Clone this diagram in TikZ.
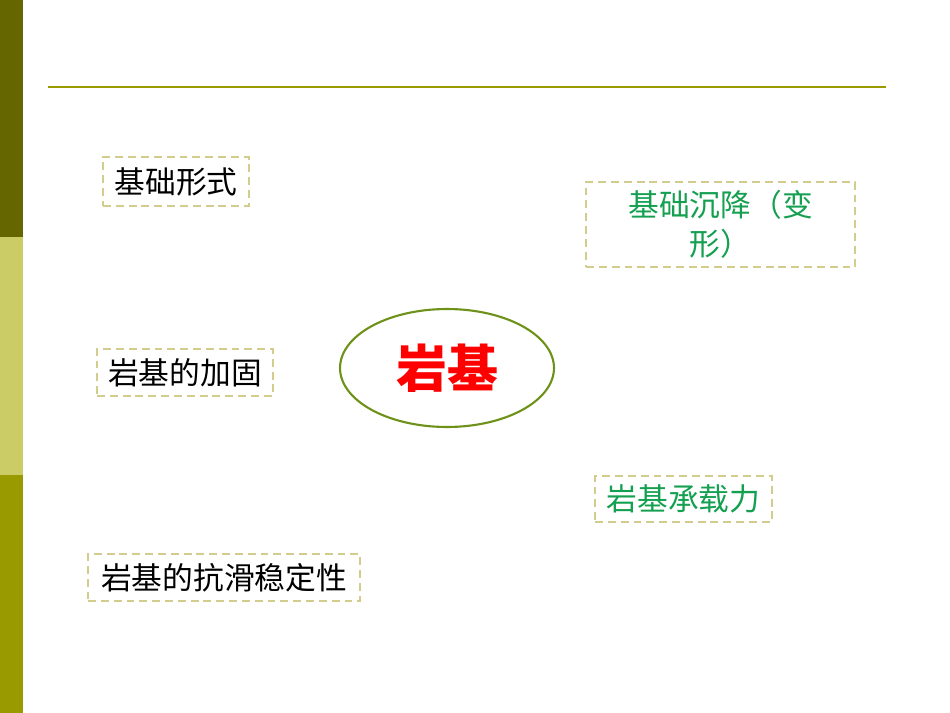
\documentclass[tikz,border=0pt]{standalone}
\usepackage{fontspec}
\setmainfont{Noto Sans CJK SC}
\usetikzlibrary{shapes.geometric}
\definecolor{barDark}{RGB}{102,102,0}
\definecolor{barLight}{RGB}{204,204,102}
\definecolor{barMid}{RGB}{153,153,0}
\definecolor{ruleOlive}{RGB}{153,153,0}
\definecolor{boxLine}{RGB}{210,205,140}
\definecolor{ringOlive}{RGB}{110,145,25}
\definecolor{txtGreen}{RGB}{20,160,80}
\definecolor{txtRed}{RGB}{255,0,0}
\begin{document}
\begin{tikzpicture}[x=0.02cm,y=-0.02cm,
		topic/.style={draw=boxLine, line width=1.1pt, dash pattern=on 4.5pt off 2.8pt, inner sep=0pt, align=center, font=\fontsize{17.5}{22}\selectfont}]
		\useasboundingbox (0,0) rectangle (950,713);
		% SIDE BAR
		\fill[barDark]  (0,0) rectangle (23,237);
		\fill[barLight] (0,237) rectangle (23,475);
		\fill[barMid]   (0,475) rectangle (23,713);
		\draw[ruleOlive, line width=1.2pt] (48,87) -- (886,87);
		
		% BLOCKS
		\node (core) [ellipse, draw=ringOlive, line width=1.2pt, minimum width=4.28cm, minimum height=2.36cm, text=txtRed, font=\fontsize{29}{32}\selectfont\bfseries] at (447,368) {岩基};
		\node (form) [topic, minimum width=2.92cm, minimum height=0.98cm] at (176,181.5) {基础形式};
		\node (settle) [topic, text=txtGreen, minimum width=5.38cm, minimum height=1.7cm] at (720.5,224.5) {基础沉降（变\\形）};
		\node (reinf) [topic, minimum width=3.52cm, minimum height=0.94cm] at (185,372.5) {岩基的加固};
		\node (bear) [topic, text=txtGreen, minimum width=3.54cm, minimum height=0.92cm] at (683.5,499) {岩基承载力};
		\node (slide) [topic, minimum width=5.44cm, minimum height=0.94cm] at (224,577.5) {岩基的抗滑稳定性};
	\end{tikzpicture}
\end{document}
